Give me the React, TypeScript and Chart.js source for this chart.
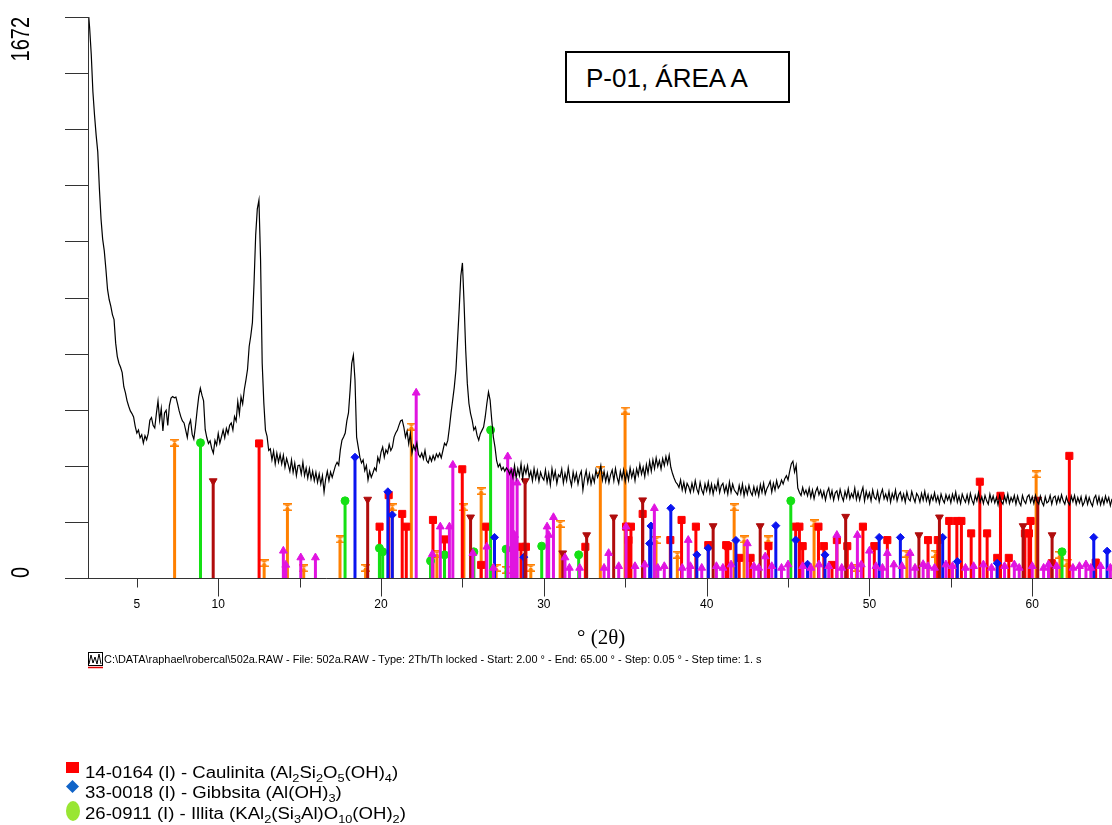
import React, { useEffect, useRef } from "react";
import { Chart, registerables } from "chart.js";
Chart.register(...registerables);

// ---- measured pattern: 2.0° .. 64.9°, one value per 0.1° ----
const START_ANGLE = 2.0;
const ANGLE_STEP = 0.1;
const counts: number[] = [
  1700, 1640, 1560, 1450, 1380, 1320, 1270, 1160, 1070, 1010,
  975, 920, 860, 830, 810, 785, 770, 700, 660, 640,
  628, 612, 570, 552, 528, 512, 498, 490, 480, 452,
  432, 441, 418, 427, 402, 424, 412, 431, 470, 478,
  455, 447, 490, 528, 470, 505, 438, 492, 500, 455,
  514, 536, 541, 537, 539, 520, 498, 481, 468, 462,
  441, 419, 456, 470, 428, 414, 452, 498, 540, 566,
  545, 528, 442, 418, 401, 409, 386, 372, 410, 396,
  431, 402, 421, 441, 418, 446, 430, 455, 462, 441,
  481, 468, 526, 489, 540, 519, 561, 590, 622, 690,
  722, 762, 880, 1022, 1100, 1126, 948, 640, 522, 441,
  422, 380, 385, 352, 378, 340, 372, 345, 368, 340,
  366, 330, 356, 338, 318, 352, 315, 342, 305, 335,
  336, 310, 345, 305, 328, 298, 326, 295, 318, 290,
  315, 285, 310, 280, 305, 256, 295, 318, 290, 316,
  300, 318, 335, 345, 336, 382, 411, 420, 432, 468,
  492, 560, 640, 664, 590, 420, 390, 360, 343, 352,
  320, 335, 292, 318, 300, 313, 328, 320, 360, 345,
  375, 390, 360, 382, 372, 398, 380, 390, 420, 432,
  440, 455, 468, 471, 450, 420, 438, 400, 430, 372,
  395, 381, 402, 368, 360, 372, 355, 380, 350, 343,
  362, 348, 365, 352, 370, 360, 372, 358, 380, 402,
  395, 410, 448, 492, 530, 569, 620, 709, 800, 900,
  939, 820, 680, 580, 520, 490, 470, 441, 450, 425,
  411, 430, 440, 450, 480, 520, 554, 530, 471, 420,
  390, 350, 331, 340, 322, 330, 318, 328, 322, 310,
  322, 300, 335, 298, 326, 305, 340, 296, 331, 312,
  335, 301, 318, 290, 326, 296, 320, 288, 315, 300,
  292, 322, 285, 312, 278, 326, 296, 318, 282, 308,
  301, 325, 283, 312, 290, 328, 296, 275, 316, 290,
  312, 280, 305, 318, 262, 298, 320, 284, 310, 280,
  305, 286, 322, 300, 312, 335, 292, 318, 288, 312,
  284, 308, 322, 290, 326, 300, 282, 318, 296, 322,
  288, 316, 292, 328, 300, 320, 290, 326, 306, 338,
  310, 330, 302, 338, 312, 348, 318, 352, 326, 358,
  332, 350, 325, 356, 335, 362, 340, 366, 330, 312,
  298, 286, 280, 270, 292, 262, 285, 258, 282, 272,
  255, 282, 260, 290, 265, 252, 285, 262, 250, 280,
  260, 286, 255, 280, 250, 276, 262, 290, 255, 275,
  282, 256, 275, 250, 286, 256, 280, 262, 255, 248,
  276, 252, 280, 245, 270, 250, 276, 256, 246, 272,
  250, 270, 245, 278, 255, 282, 250, 266, 276, 288,
  256, 282, 262, 290, 268, 276, 292, 280, 296, 305,
  292, 318, 340, 348, 316, 336, 268, 255, 246, 270,
  250, 262, 245, 268, 240, 262, 236, 258, 270, 248,
  262, 240, 258, 232, 256, 268, 240, 260, 232, 254,
  260, 236, 264, 244, 230, 258, 240, 266, 236, 252,
  240, 268, 234, 256, 232, 254, 270, 230, 258, 238,
  254, 230, 262, 240, 234, 258, 228, 250, 264, 236,
  250, 232, 258, 226, 252, 236, 262, 230, 248, 256,
  232, 250, 226, 256, 236, 230, 258, 240, 226, 252,
  244, 226, 252, 232, 258, 230, 248, 222, 246, 232,
  254, 228, 244, 222, 250, 234, 224, 248, 232, 246,
  224, 250, 232, 256, 226, 244, 222, 250, 236, 226,
  248, 224, 252, 232, 220, 246, 230, 254, 226, 242,
  222, 246, 230, 220, 250, 228, 244, 224, 240, 218,
  246, 228, 220, 244, 226, 250, 222, 240, 228, 246,
  220, 244, 226, 216, 246, 230, 222, 242, 248, 226,
  242, 222, 246, 228, 220, 244, 226, 216, 242, 224,
  228, 246, 220, 240, 244, 222, 242, 226, 248, 230,
  220, 242, 226, 218, 244, 228, 246, 220, 240, 224,
  242, 216, 226, 244, 220, 240, 224, 214, 238, 246,
  222, 242, 218, 238, 220, 244, 226, 240, 216, 236,
];

// ---- reference pattern sticks (angle °2θ, counts) ----
const caulinitaPos = [12.51, 19.91, 20.47, 21.3, 21.55, 23.19, 23.9, 24.99, 26.15, 26.46, 28.6, 28.9, 32.55, 35.05, 35.2, 35.35, 36.07, 37.77, 38.46, 39.34, 40.1, 41.2, 41.3, 42.0, 42.7, 43.8, 45.47, 45.7, 45.9, 46.87, 47.2, 47.7, 48.0, 48.64, 49.6, 50.3, 51.1, 53.6, 54.2, 54.9, 55.37, 55.65, 56.25, 56.78, 57.23, 57.85, 58.05, 58.56, 59.55, 59.8, 59.9, 61.2, 62.28, 63.9];
const caulinitaInt = [401, 153, 247, 191, 153, 173, 115, 324, 39, 153, 93, 93, 93, 153, 113, 153, 191, 113, 173, 153, 98, 98, 95, 60, 60, 95, 153, 153, 95, 153, 95, 39, 113, 95, 153, 95, 113, 113, 113, 170, 170, 170, 133, 287, 133, 60, 245, 60, 133, 133, 170, 44, 364, 46];

const gibbsitaPos = [18.4, 20.42, 20.69, 26.97, 28.77, 36.5, 36.58, 37.8, 39.4, 40.1, 41.8, 44.25, 45.47, 46.2, 47.27, 50.6, 51.9, 54.5, 55.4, 57.85, 63.78, 64.6];
const gibbsitaInt = [360, 257, 188, 121, 62, 103, 155, 208, 69, 89, 112, 156, 113, 41, 69, 121, 121, 121, 49, 44, 121, 80];

const illitaPos = [8.91, 17.79, 19.9, 20.1, 23.04, 23.9, 25.7, 26.73, 27.68, 29.87, 32.14, 45.17, 61.83];
const illitaInt = [403, 230, 89, 78, 51, 69, 78, 441, 86, 95, 69, 230, 78];

const orangePos = [7.32, 12.82, 14.25, 15.25, 17.48, 19.05, 20.69, 21.86, 23.43, 25.09, 26.15, 27.07, 27.7, 29.2, 31.0, 33.47, 34.99, 36.89, 38.2, 41.69, 42.3, 43.78, 46.6, 49.2, 52.3, 54.06, 60.24, 61.7, 62.14];
const orangeInt = [403, 44, 211, 29, 115, 30, 211, 451, 72, 211, 259, 30, 24, 30, 161, 322, 499, 113, 69, 211, 115, 115, 163, 30, 72, 72, 309, 69, 46];

const darkRedPos = [9.69, 19.18, 25.5, 28.85, 31.16, 32.63, 34.29, 36.07, 40.4, 43.29, 48.54, 53.04, 54.3, 59.44, 60.34, 61.22];
const darkRedInt = [289, 234, 181, 289, 74, 128, 181, 232, 155, 155, 183, 128, 181, 155, 234, 128];

const magentaPos = [14.0, 14.15, 15.07, 15.97, 22.16, 23.15, 23.64, 24.2, 24.41, 25.64, 26.5, 26.9, 27.78, 27.99, 28.1, 28.2, 28.36, 30.2, 30.3, 30.59, 31.3, 31.57, 32.2, 33.7, 33.98, 35.05, 36.79, 38.87, 42.5, 43.6, 48.0, 49.26, 50.0, 51.1, 52.5, 53.3,
  34.6, 35.6, 36.2, 37.0, 37.4, 38.5, 39.0, 39.7, 40.6, 41.0, 41.5, 42.9, 43.2, 44.0, 44.6, 45.0, 45.9, 46.4, 46.9, 47.5, 48.3, 48.9, 49.5, 50.4, 50.8, 51.5, 52.0, 52.8, 53.6, 54.0, 54.7, 55.1, 55.9, 56.4, 57.0, 57.5, 58.3, 58.9, 59.2, 60.0, 60.7, 61.0, 61.5, 62.5, 62.9, 63.3, 63.6, 64.2, 64.8];
const magentaInt = [81, 39, 61, 61, 552, 71, 153, 153, 337, 74, 93, 30, 362, 317, 312, 128, 284, 153, 128, 181, 61, 30, 30, 30, 74, 153, 208, 113, 103, 64, 128, 128, 81, 74, 74, 41,
  35, 35, 40, 30, 35, 30, 35, 30, 35, 30, 40, 35, 30, 35, 30, 40, 35, 30, 40, 35, 30, 35, 40, 35, 30, 40, 35, 30, 35, 30, 40, 35, 30, 35, 40, 30, 35, 40, 30, 35, 30, 40, 35, 30, 35, 40, 30, 35, 30];

// ---- axes ----
const X_MIN = 2;
const X_MAX = 64.9;
const Y_MAX = 1672;
const xTicks = [5, 10, 15, 20, 25, 30, 35, 40, 45, 50, 55, 60];
const xMajorTicks = [10, 20, 30, 40, 50, 60];
const xTickLabels = ["5", "10", "20", "30", "40", "50", "60"];
const yTicks = [0, 167.2, 334.4, 501.6, 668.8, 836, 1003.2, 1170.4, 1337.6, 1504.8, 1672];
const yTickLabels = ["0", "1672"];

function stickData(pos: number[], ints: number[]) {
  const d: any[] = [];
  pos.forEach((p, i) => {
    d.push({ x: p, y: 0 });
    d.push({ x: p, y: ints[i] });
    d.push({ x: p, y: null });
  });
  return d;
}

const axesPlugin = {
  id: "xrdAxes",
  afterDraw(chart: any) {
    const { ctx, chartArea } = chart;
    const xs = chart.scales.x;
    const ys = chart.scales.y;
    ctx.save();
    ctx.strokeStyle = "#333";
    ctx.lineWidth = 1;
    const left = Math.round(chartArea.left) + 0.5;
    const bottom = Math.round(ys.getPixelForValue(0)) + 0.5;
    ctx.beginPath();
    ctx.moveTo(left, ys.getPixelForValue(Y_MAX));
    ctx.lineTo(left, bottom);
    ctx.moveTo(65, bottom);
    ctx.lineTo(chartArea.right, bottom);
    yTicks.forEach((v) => {
      const y = Math.round(ys.getPixelForValue(v)) + 0.5;
      ctx.moveTo(65, y);
      ctx.lineTo(left, y);
    });
    xTicks.forEach((v) => {
      const x = Math.round(xs.getPixelForValue(v)) + 0.5;
      const len = xMajorTicks.includes(v) ? 18 : 9;
      ctx.moveTo(x, bottom);
      ctx.lineTo(x, bottom + len);
    });
    ctx.stroke();

    ctx.fillStyle = "#000";
    ctx.font = '12px "Liberation Sans", Arial, sans-serif';
    ctx.textAlign = "center";
    ctx.textBaseline = "middle";
    xTickLabels.forEach((t) => {
      ctx.fillText(t, xs.getPixelForValue(Number(t)), 605);
    });

    ctx.font = '20px "Liberation Sans", Arial, sans-serif';
    yTickLabels.forEach((t) => {
      const v = Number(t);
      ctx.save();
      ctx.translate(22.5, ys.getPixelForValue(v));
      ctx.rotate(-Math.PI / 2);
      ctx.scale(1, 1.25);
      ctx.textBaseline = "middle";
      ctx.textAlign = v === 0 ? "left" : "right";
      ctx.fillText(t, 0, 0);
      ctx.restore();
    });
    ctx.restore();
  },
};

const sub = (s: string) => (
  <span style={{ fontSize: 11, position: "relative", top: 4 }}>{s}</span>
);

export default function App() {
  const ref = useRef<HTMLCanvasElement | null>(null);

  useEffect(() => {
    if (!ref.current) return;
    const bow = document.createElement("canvas");
    bow.width = 9;
    bow.height = 8;
    const b = bow.getContext("2d")!;
    b.fillStyle = "#FF8000";
    b.fillRect(0, 0, 9, 1.6);
    b.fillRect(0, 6.4, 9, 1.6);
    b.beginPath();
    b.moveTo(1, 1.5);
    b.lineTo(8, 1.5);
    b.lineTo(4.5, 4);
    b.closePath();
    b.fill();
    b.beginPath();
    b.moveTo(1, 6.5);
    b.lineTo(8, 6.5);
    b.lineTo(4.5, 4);
    b.closePath();
    b.fill();

    const topOnly = (r: number) => (c: any) => (c.dataIndex % 3 === 1 ? r : 0);
    const stick = (label: string, pos: number[], ints: number[], color: string, style: any, r: number, order: number, rotation = 0) => ({
      label,
      data: stickData(pos, ints),
      borderColor: color,
      backgroundColor: color,
      borderWidth: 3,
      pointStyle: style,
      pointRotation: rotation,
      pointRadius: topOnly(r),
      pointHoverRadius: topOnly(r),
      pointBackgroundColor: color,
      pointBorderColor: color,
      pointBorderWidth: 1,
      spanGaps: false,
      order,
    });

    const chart = new Chart(ref.current, {
      type: "line",
      data: {
        datasets: [
          {
            label: "502a.RAW",
            data: counts.map((c, i) => ({ x: Number((START_ANGLE + i * ANGLE_STEP).toFixed(2)), y: c })),
            borderColor: "#000",
            borderWidth: 1.2,
            pointRadius: 0,
            tension: 0,
            order: 0,
          } as any,
          stick("magenta", magentaPos, magentaInt, "#E014E0", "triangle", 4.5, 1),
          stick("darkred", darkRedPos, darkRedInt, "#B00C0C", "triangle", 4.5, 2, 180),
          stick("Gibbsita", gibbsitaPos, gibbsitaInt, "#0A14F0", "rectRot", 4, 3),
          stick("Illita", illitaPos, illitaInt, "#14E014", "circle", 4, 4),
          stick("Caulinita", caulinitaPos, caulinitaInt, "#FF0000", "rect", 5, 5),
          stick("orange", orangePos, orangeInt, "#FF8000", bow, 4, 6),
        ],
      },
      options: {
        responsive: false,
        animation: false,
        events: [],
        layout: { padding: { left: 88, top: 17, right: 0, bottom: 247 } },
        scales: {
          x: { type: "linear", min: X_MIN, max: X_MAX, display: false },
          y: { type: "linear", min: 0, max: Y_MAX, display: false },
        },
        plugins: { legend: { display: false }, tooltip: { enabled: false } },
      },
      plugins: [axesPlugin],
    });
    return () => chart.destroy();
  }, []);

  const abs = (s: React.CSSProperties): React.CSSProperties => ({ position: "absolute", whiteSpace: "nowrap", ...s });
  const sans = '"Liberation Sans", Arial, sans-serif';
  const legendText = (top: number): React.CSSProperties =>
    abs({ left: 85, top, font: `16px ${sans}`, lineHeight: "16px", transform: "scaleX(1.16)", transformOrigin: "0 0" });

  return (
    <div style={{ position: "absolute", left: 0, top: 0, width: 1112, height: 825, overflow: "hidden", background: "#fff" }}>
      <canvas ref={ref} width={1112} height={825} style={{ display: "block", position: "absolute", left: 0, top: 0 }} />
      <div style={abs({ left: 565, top: 51, width: 225, height: 52, boxSizing: "border-box", border: "2px solid #000", background: "#fff" })}>
        <span style={abs({ left: 19, top: 12, font: `26px ${sans}`, lineHeight: "26px" })}>P-01, ÁREA A</span>
      </div>
      <div style={abs({ left: 577, top: 627, font: '21px "Liberation Serif", "Times New Roman", serif', lineHeight: "21px" })}>° (2θ)</div>
      <svg style={{ position: "absolute", left: 88, top: 652 }} width={16} height={17}>
        <rect x={0.5} y={0.5} width={14} height={13} fill="#fff" stroke="#000" strokeWidth={1} />
        <polyline points="1,12 3,3 5,11 7,5 9,12 11,2 13,12" fill="none" stroke="#000" strokeWidth={1} />
        <line x1={0} y1={15.5} x2={15} y2={15.5} stroke="#E00000" strokeWidth={1.5} />
      </svg>
      <div style={abs({ left: 104, top: 655, font: `10px ${sans}`, lineHeight: "10px", transform: "scaleX(1.093)", transformOrigin: "0 0" })}>
        C:\DATA\raphael\robercal\502a.RAW - File: 502a.RAW - Type: 2Th/Th locked - Start: 2.00 ° - End: 65.00 ° - Step: 0.05 ° - Step time: 1. s
      </div>

      <div style={abs({ left: 66, top: 762, width: 13, height: 11, background: "#FF0000" })} />
      <svg style={{ position: "absolute", left: 66, top: 780 }} width={13} height={13}>
        <polygon points="6.5,0 13,6.5 6.5,13 0,6.5" fill="#1064C8" />
      </svg>
      <div style={abs({ left: 66, top: 801, width: 14, height: 20, borderRadius: "50%", background: "#99E633" })} />

      <div style={legendText(764.5)}>
        14-0164 (I) - Caulinita (Al{sub("2")}Si{sub("2")}O{sub("5")}(OH){sub("4")})
      </div>
      <div style={legendText(784.5)}>
        33-0018 (I) - Gibbsita (Al(OH){sub("3")})
      </div>
      <div style={legendText(805.5)}>
        26-0911 (I) - Illita (KAl{sub("2")}(Si{sub("3")}Al)O{sub("10")}(OH){sub("2")})
      </div>
    </div>
  );
}
